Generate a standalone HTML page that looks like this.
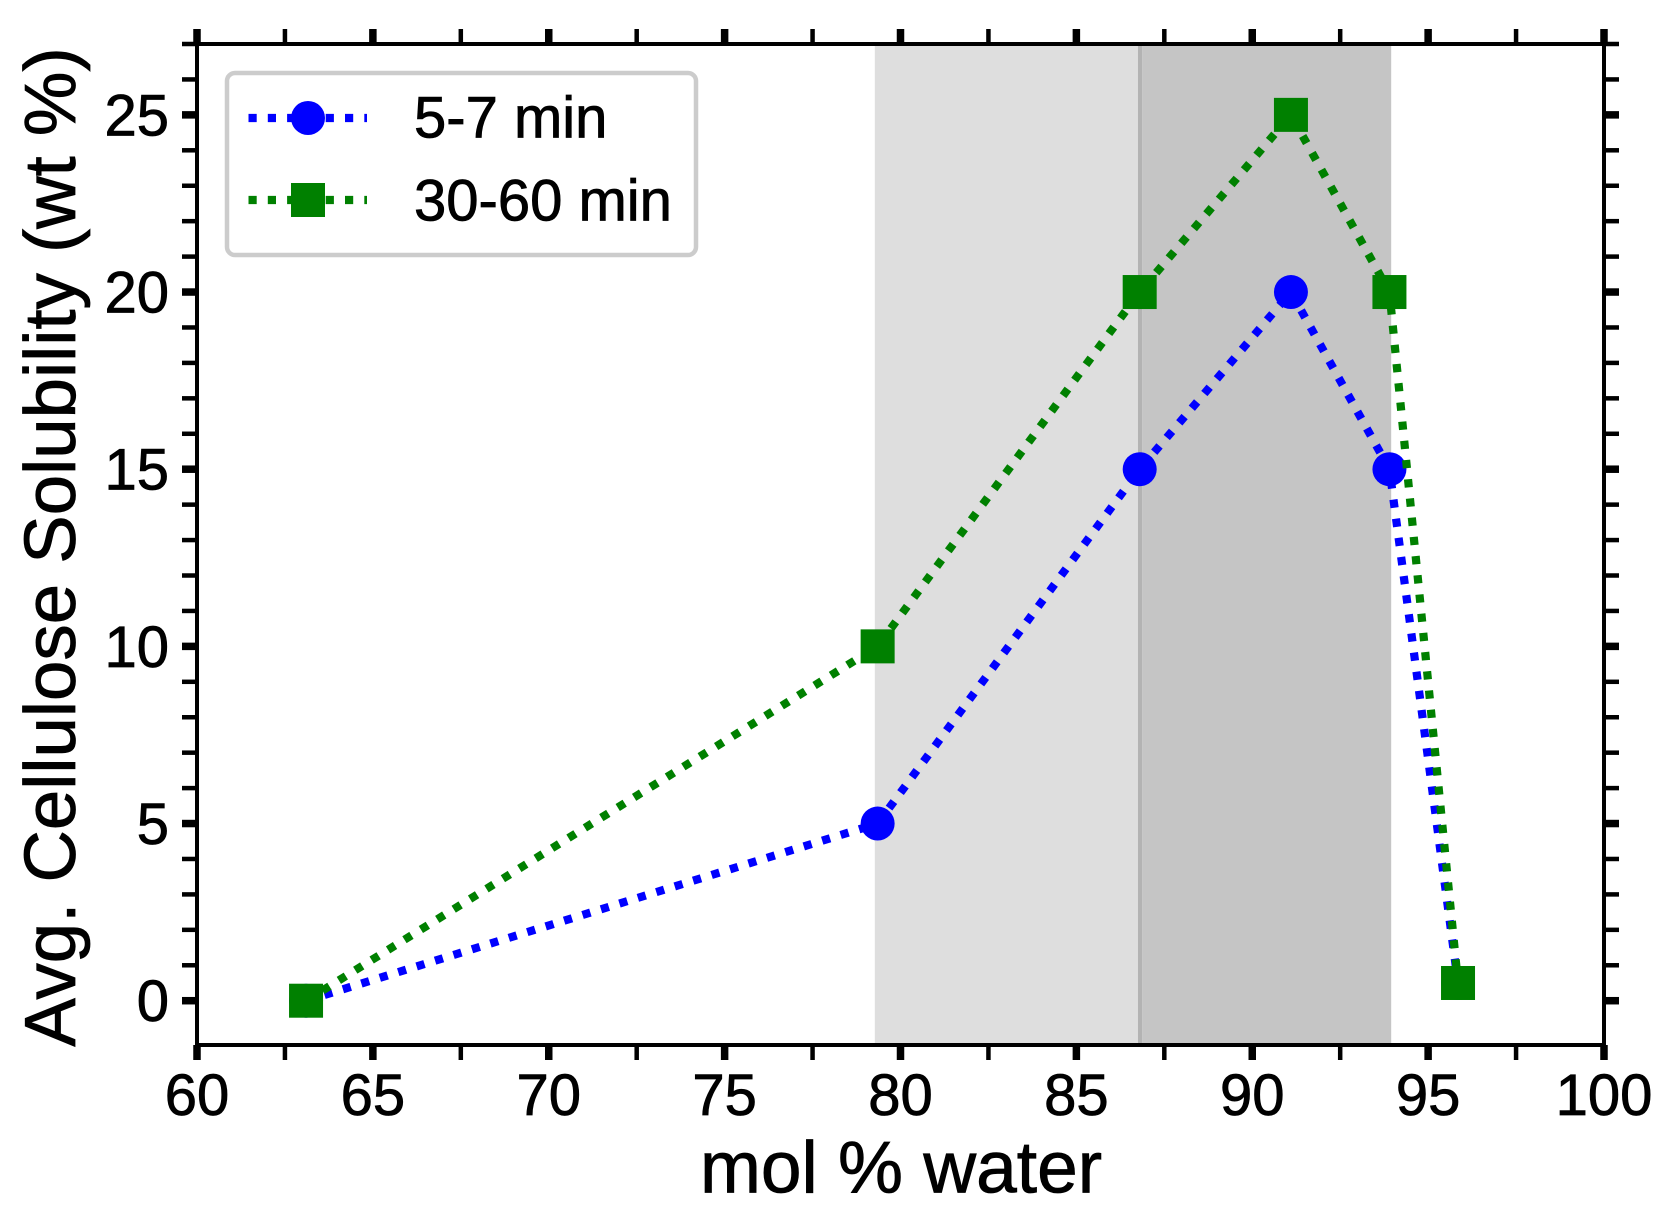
<!DOCTYPE html>
<html lang="en">
<head>
<meta charset="utf-8">
<title>Avg. Cellulose Solubility vs mol % water</title>
<style>
html,body{margin:0;padding:0;background:#fff;}
svg{display:block;}
text{font-family:"Liberation Sans",Arial,sans-serif;fill:#000;stroke:#000;stroke-width:0.8px;}
</style>
</head>
<body>
<svg id="chart" xmlns="http://www.w3.org/2000/svg" width="1673" height="1212" viewBox="0 0 1673 1212"></svg>
<script>
const xMajorTicks = [60, 65, 70, 75, 80, 85, 90, 95, 100];
const xMinorTicks = [62.5, 67.5, 72.5, 77.5, 82.5, 87.5, 92.5, 97.5];
const yMajorTicks = [0, 5, 10, 15, 20, 25];
const yMinorTicks = [1, 2, 3, 4, 6, 7, 8, 9, 11, 12, 13, 14, 16, 17, 18, 19, 21, 22, 23, 24, 26, 27];
const xLimits = [60, 100];
const yLimits = [-1.25, 27];
const lightBand = [79.27, 86.75];
const overlapBand = [86.75, 86.87];
const darkBand = [86.87, 93.95];
const waterMol = [63.1, 79.35, 86.8, 91.1, 93.9, 95.85];
const shortTimeSolubility = [0, 5, 15, 20, 15, 0.5];
const longTimeSolubility = [0, 10, 20, 25, 20, 0.5];
const shortTimeLabel = '5-7 min';
const longTimeLabel = '30-60 min';

const NS = 'http://www.w3.org/2000/svg';
const svg = document.getElementById('chart');
const plotLeft = 197, plotRight = 1604, plotTop = 44, plotBottom = 1045;

function sx(v) { return plotLeft + (v - xLimits[0]) / (xLimits[1] - xLimits[0]) * (plotRight - plotLeft); }
function sy(v) { return plotBottom - (v - yLimits[0]) / (yLimits[1] - yLimits[0]) * (plotBottom - plotTop); }

function mk(tag, attrs, parent) {
  const el = document.createElementNS(NS, tag);
  for (const k in attrs) el.setAttribute(k, attrs[k]);
  (parent || svg).appendChild(el);
  return el;
}

// shaded regions
const lightRect = mk('rect', {x: sx(lightBand[0]), y: plotTop, width: sx(lightBand[1]) - sx(lightBand[0]), height: plotBottom - plotTop, fill: '#dedede'});


const darkRect = mk('rect', {x: sx(darkBand[0]), y: plotTop, width: sx(darkBand[1]) - sx(darkBand[0]), height: plotBottom - plotTop, fill: '#c5c5c5'});


const overlapRect = mk('rect', {x: sx(overlapBand[0]), y: plotTop, width: sx(overlapBand[1]) - sx(overlapBand[0]), height: plotBottom - plotTop, fill: '#b3b3b3'});



function drawSeries(values, color, kind, name) {
  const g = mk('g', {});
  
  
  const pts = waterMol.map((x, i) => sx(x) + ',' + sy(values[i])).join(' ');
  const line = mk('polyline', {points: pts, fill: 'none', stroke: color, 'stroke-width': 8.2, 'stroke-dasharray': '8.2 11.1', 'stroke-linejoin': 'round'}, g);
  
  
  waterMol.forEach((x, i) => {
    const m = kind === 'circle'
      ? mk('circle', {cx: sx(x), cy: sy(values[i]), r: 17, fill: color}, g)
      : mk('rect', {x: sx(x) - 17, y: sy(values[i]) - 17, width: 34, height: 34, fill: color}, g);
    
    
  });
}
drawSeries(shortTimeSolubility, '#0000ff', 'circle', 'series-5-7-min');
drawSeries(longTimeSolubility, '#008000', 'square', 'series-30-60-min');

// ticks
const tickGroup = mk('g', {stroke: '#000'});


function xTick(v, w) {
  const x = sx(v);
  mk('line', {x1: x, x2: x, y1: plotBottom, y2: plotBottom + 15, 'stroke-width': w}, tickGroup);
  mk('line', {x1: x, x2: x, y1: plotTop, y2: plotTop - 15, 'stroke-width': w}, tickGroup);
}
function yTick(v, w) {
  const y = sy(v);
  mk('line', {x1: plotLeft, x2: plotLeft - 15, y1: y, y2: y, 'stroke-width': w}, tickGroup);
  mk('line', {x1: plotRight, x2: plotRight + 15, y1: y, y2: y, 'stroke-width': w}, tickGroup);
}
xMajorTicks.forEach(v => xTick(v, 7.5));
xMinorTicks.forEach(v => xTick(v, 4.5));
yMajorTicks.forEach(v => yTick(v, 7.5));
yMinorTicks.forEach(v => yTick(v, 4.5));

// frame
const frame = mk('rect', {x: plotLeft, y: plotTop, width: plotRight - plotLeft, height: plotBottom - plotTop, fill: 'none', stroke: '#000', 'stroke-width': 4});



// tick labels
xMajorTicks.forEach(v => {
  const t = mk('text', {x: sx(v), y: 1115, 'font-size': 58, 'text-anchor': 'middle'});
  t.textContent = v;
  
  
});
yMajorTicks.forEach(v => {
  const t = mk('text', {x: 169, y: sy(v) + 20.5, 'font-size': 58, 'text-anchor': 'end'});
  t.textContent = v;
  
  
});

// axis titles
const xTitle = mk('text', {x: 901, y: 1192.5, 'font-size': 73.1, 'text-anchor': 'middle'});
xTitle.textContent = 'mol % water';


const yTitle = mk('text', {x: 0, y: 0, 'font-size': 72.6, 'text-anchor': 'middle', transform: 'translate(75 547) rotate(-90)'});
yTitle.textContent = 'Avg. Cellulose Solubility (wt %)';



// legend
const legend = mk('g', {});


const legendBox = mk('rect', {x: 227, y: 73, width: 469, height: 182, rx: 8, ry: 8, fill: '#fff', stroke: '#cccccc', 'stroke-width': 4.5}, legend);



function legendEntry(cy, textY, color, kind, label, name) {
  const g = mk('g', {}, legend);
  
  
  mk('line', {x1: 248.5, x2: 367, y1: cy, y2: cy, stroke: color, 'stroke-width': 8.2, 'stroke-dasharray': '8.2 11.1'}, g);
  if (kind === 'circle') mk('circle', {cx: 308, cy: cy, r: 17, fill: color}, g);
  else mk('rect', {x: 291, y: cy - 17, width: 34, height: 34, fill: color}, g);
  const t = mk('text', {x: 414, y: textY, 'font-size': 58}, g);
  t.textContent = label;
  
  
}
legendEntry(118, 137.5, '#0000ff', 'circle', shortTimeLabel, 'legend-entry-5-7-min');
legendEntry(200, 220.5, '#008000', 'square', longTimeLabel, 'legend-entry-30-60-min');
</script>
</body>
</html>
